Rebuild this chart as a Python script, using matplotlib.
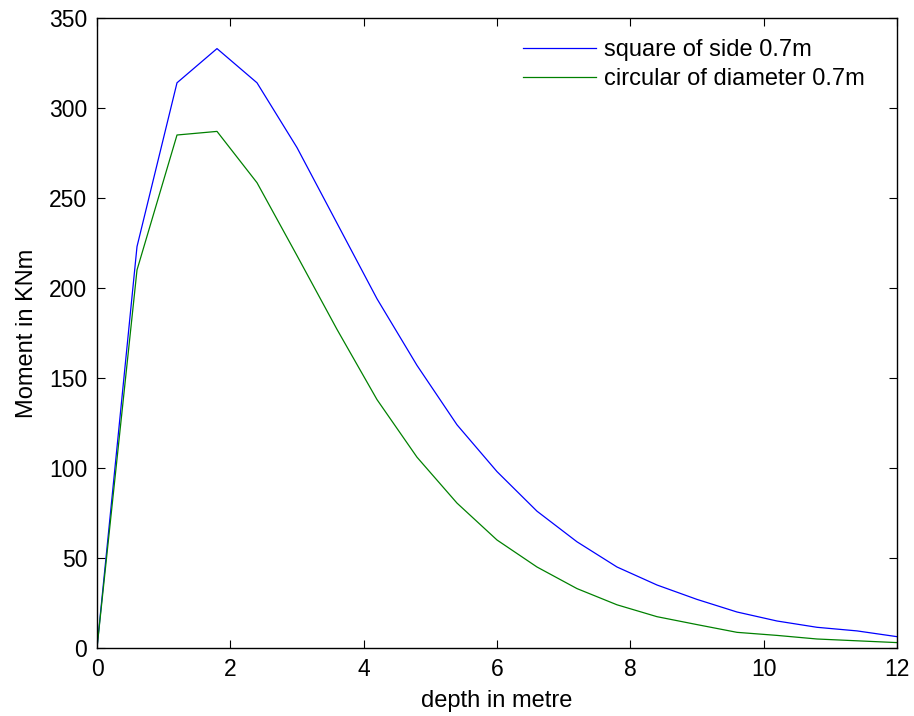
import matplotlib
matplotlib.use("Agg")
import matplotlib.pyplot as plt
import numpy as np

plt.rcParams['font.family'] = ['Liberation Sans', 'DejaVu Sans']

depth = [0, 0.6, 1.2, 1.8, 2.4, 3.0, 3.6, 4.2, 4.8, 5.4, 6.0, 6.6, 7.2, 7.8, 8.4, 9.0, 9.6, 10.2, 10.8, 11.4, 12.0]
square = [0, 223, 314, 333, 314, 278, 236, 194, 157, 124, 98, 76, 59, 45, 35, 27, 20, 15, 11.5, 9.5, 6.3]
circular = [0, 210, 285, 287, 258.5, 218, 177, 138, 106, 80.5, 60, 45, 33, 24, 17.4, 13, 8.7, 7, 5, 4, 3]
labels = ["square of side 0.7m", "circular of diameter 0.7m"]

fig = plt.figure(figsize=(9.14, 7.16), dpi=100)
ax = fig.add_axes([97/914, 68/716, 800/914, 630/716])
ax.plot(depth, square, color=(0, 0, 1), lw=0.9, label=labels[0])
ax.plot(depth, circular, color=(0, 0.5, 0), lw=0.9, label=labels[1])
ax.set_xlim(0, 12)
ax.set_ylim(0, 350)
ax.set_xticks(np.arange(0, 13, 2))
ax.set_yticks(np.arange(0, 351, 50))
ax.tick_params(direction='in', top=True, right=True, labelsize=16.5, length=6, pad=7)
ax.set_xlabel("depth in metre", fontsize=17, labelpad=7)
ax.set_ylabel("Moment in KNm", fontsize=17, labelpad=8)
for s in ax.spines.values():
    s.set_linewidth(1.0)
leg = ax.legend(loc='upper right', frameon=False, fontsize=17, handlelength=3.1,
                handletextpad=0.34, labelspacing=0.3, bbox_to_anchor=(0.986, 1.0))
fig.savefig("out.png", dpi=100)
